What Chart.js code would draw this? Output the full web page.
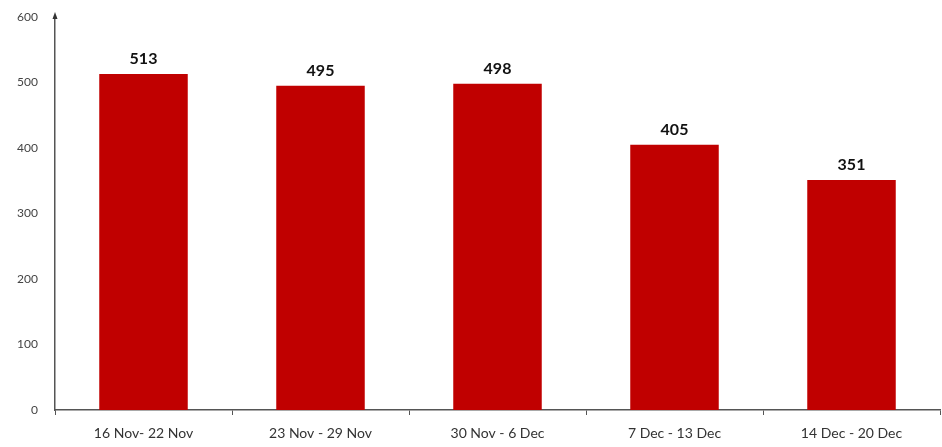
<!DOCTYPE html>
<html><head><meta charset="utf-8">
<script src="https://cdn.jsdelivr.net/npm/chart.js@4/dist/chart.umd.min.js"></script>
<style>html,body{margin:0;padding:0;background:#fff;overflow:hidden}canvas{display:block}</style>
</head><body><canvas id="c" width="942" height="447" style="width:942px;height:447px"></canvas>
<script>
const categories = ["16 Nov- 22 Nov","23 Nov - 29 Nov","30 Nov - 6 Dec","7 Dec - 13 Dec","14 Dec - 20 Dec"];
const values = [513,495,498,405,351];
const yTicks = [0,100,200,300,400,500,600];

const labelPlugin = {
  id:'labels',
  afterDatasetsDraw(chart){
    const ctx = chart.ctx;
    const meta = chart.getDatasetMeta(0);
    ctx.save();
    ctx.font = 'bold 16px Lato, "Open Sans", sans-serif';
    ctx.fillStyle = '#111';
    ctx.textAlign = 'center';
    ctx.textBaseline = 'bottom';
    meta.data.forEach((bar,i)=>{
      ctx.fillText(String(values[i]), bar.x, bar.y - 7);
    });
    const ya = chart.scales.y;
    const x = ya.right;
    const top = ya.top;
    ctx.fillStyle = '#333';
    ctx.beginPath();
    ctx.moveTo(x, top - 5);
    ctx.lineTo(x - 2.5, top + 2);
    ctx.lineTo(x + 2.5, top + 2);
    ctx.closePath();
    ctx.fill();
    ctx.restore();
  }
};

new Chart(document.getElementById('c'),{
  type:'bar',
  data:{labels:categories,datasets:[{data:values,backgroundColor:'#C00000',categoryPercentage:1,barPercentage:0.5}]},
  options:{
    responsive:false,animation:false,devicePixelRatio:1,
    layout:{padding:{top:17,right:2,bottom:4,left:0}},
    plugins:{legend:{display:false},tooltip:{enabled:false}},
    scales:{
      x:{
        afterFit(s){s.height=33;s.paddingLeft=0;s.paddingRight=0;},
        grid:{display:true,drawOnChartArea:false,offset:true,tickLength:5,color:'#555',tickColor:'#555'},
        border:{color:'#555',width:1.5},
        ticks:{color:'#333',font:{family:'Lato, "Open Sans", sans-serif',size:14},padding:10,maxRotation:0}
      },
      y:{
        min:0,max:600,
        afterFit(s){s.width=55;s.paddingTop=0;s.paddingBottom=0;},
        afterBuildTicks(s){s.ticks = yTicks.map(v=>({value:v}));},
        grid:{display:false,drawTicks:false},
        border:{color:'#555',width:1.5},
        ticks:{color:'#444',font:{family:'Lato, "Open Sans", sans-serif',size:12},padding:17}
      }
    }
  },
  plugins:[labelPlugin]
});
</script></body></html>
